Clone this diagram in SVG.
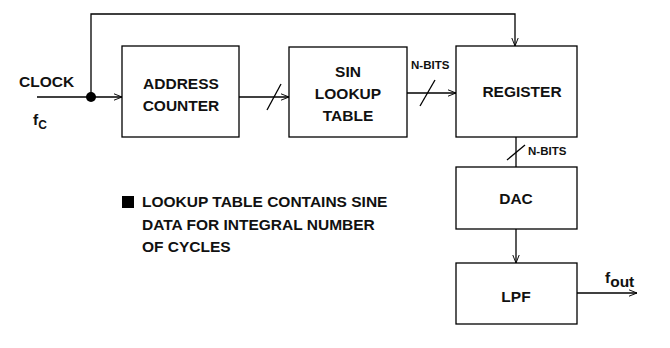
<svg xmlns="http://www.w3.org/2000/svg" width="670" height="348" viewBox="0 0 670 348">
<style>
.box{fill:#fff;stroke:#000;stroke-width:1.3}
.ln{fill:none;stroke:#000;stroke-width:1.3}
.t{font-family:"Liberation Sans",Arial,sans-serif;font-weight:bold;font-size:15.5px;fill:#111}
.s{font-family:"Liberation Sans",Arial,sans-serif;font-weight:bold;font-size:11.5px;fill:#111}
.c{text-anchor:middle}
</style>
<defs>
<marker id="ah" viewBox="0 0 10 10" refX="10" refY="5" markerWidth="8" markerHeight="8" markerUnits="userSpaceOnUse" orient="auto">
<path d="M0,1 L10,5 L0,9" fill="none" stroke="#000" stroke-width="1.2"/>
</marker>
</defs>
<rect width="670" height="348" fill="#fff"/>
<g id="connectors">
<path class="ln" d="M37,97 H122" marker-end="url(#ah)"/>
<circle cx="91" cy="97" r="5" fill="#000"/>
<path class="ln" d="M91,97 V14 H515 V46" marker-end="url(#ah)"/>
<path class="ln" d="M239,97 H289" marker-end="url(#ah)"/>
<path class="ln" d="M267,110 L281,84"/>
<path class="ln" d="M407,93 H456" marker-end="url(#ah)"/>
<path class="ln" d="M420,106 L435,80"/>
<path class="ln" d="M516,137 V167"/>
<path class="ln" d="M507,160 L525,145"/>
<path class="ln" d="M516,229 V263" marker-end="url(#ah)"/>
<path class="ln" d="M577,293 H637" marker-end="url(#ah)"/>
</g>
<g id="address-counter">
<rect class="box" x="122" y="46" width="117" height="91"/>
<text class="t c" x="181" y="89">ADDRESS</text>
<text class="t c" x="181" y="111">COUNTER</text>
</g>
<g id="sin-lookup">
<rect class="box" x="289" y="47" width="118" height="90"/>
<text class="t c" x="348" y="77">SIN</text>
<text class="t c" x="348" y="99">LOOKUP</text>
<text class="t c" x="348" y="121">TABLE</text>
</g>
<g id="register">
<rect class="box" x="456" y="46" width="121" height="91"/>
<text class="t c" x="522" y="97">REGISTER</text>
</g>
<g id="dac">
<rect class="box" x="456" y="167" width="121" height="62"/>
<text class="t c" x="516" y="204">DAC</text>
</g>
<g id="lpf">
<rect class="box" x="456" y="263" width="121" height="61"/>
<text class="t c" x="516" y="302">LPF</text>
</g>
<g id="labels">
<text class="t" x="19" y="87">CLOCK</text>
<text class="t" x="33" y="125">f<tspan font-size="12" dy="4">C</tspan></text>
<text class="s" x="411" y="69">N-BITS</text>
<text class="s" x="528" y="155">N-BITS</text>
<text class="t" x="605" y="283">f<tspan dy="4">out</tspan></text>
<rect x="122" y="196" width="12" height="12" fill="#000"/>
<text class="t" x="142" y="207">LOOKUP TABLE CONTAINS SINE</text>
<text class="t" x="142" y="230">DATA FOR INTEGRAL NUMBER</text>
<text class="t" x="142" y="252">OF CYCLES</text>
</g>
</svg>
